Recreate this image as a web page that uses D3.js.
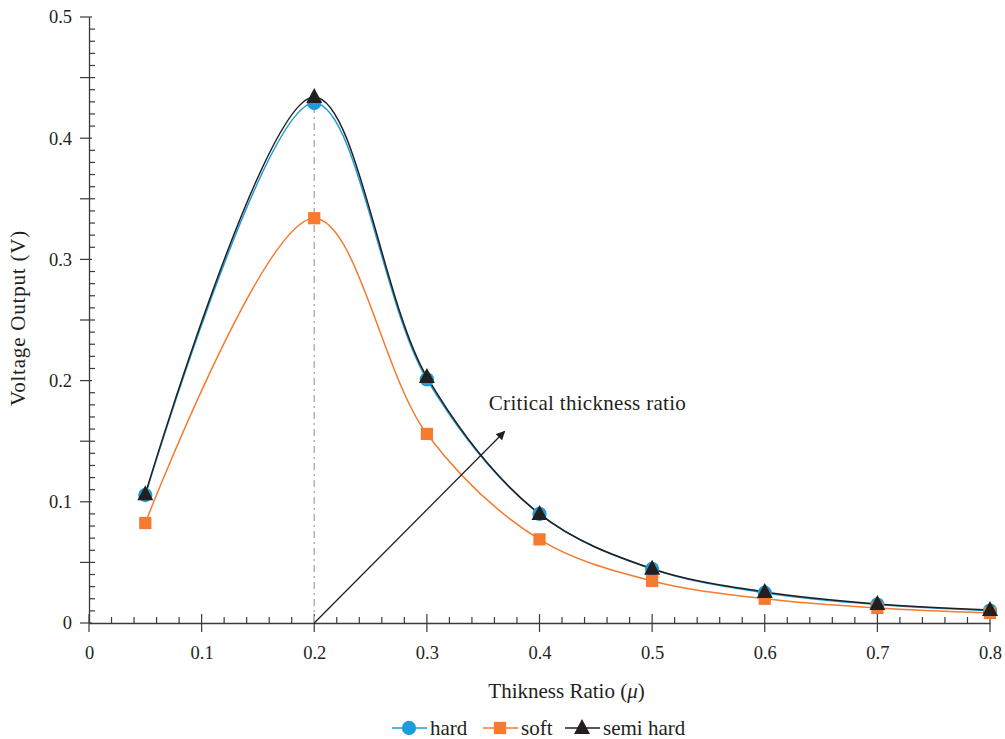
<!DOCTYPE html>
<html>
<head>
<meta charset="utf-8">
<script src="https://cdn.jsdelivr.net/npm/d3@7"></script>
<style>
  body { margin: 0; background: #fff; }
  svg text { font-family: 'Liberation Serif', 'Tinos', 'Times New Roman', 'DejaVu Serif', serif !important; }
</style>
</head>
<body>
<div id="chart"></div>
<script>
// datos
var ratios = [0.05, 0.2, 0.3, 0.4, 0.5, 0.6, 0.7, 0.8];
var hard = [0.1056, 0.429, 0.201, 0.090, 0.0446, 0.0250, 0.0152, 0.0102];
var soft = [0.0825, 0.334, 0.156, 0.0690, 0.0347, 0.0200, 0.0124, 0.0083];
var semiHard = [0.1062, 0.434, 0.203, 0.090, 0.0448, 0.0256, 0.0157, 0.0107];
var xTicks = [0, 0.1, 0.2, 0.3, 0.4, 0.5, 0.6, 0.7, 0.8];
var yTicks = [0, 0.1, 0.2, 0.3, 0.4, 0.5];
var criticalRatio = 0.2;

var width = 1005, height = 739;
var margin = { top: 17, right: 15, bottom: 116, left: 89 };
var serif = "'Liberation Serif', 'Tinos', 'Times New Roman', 'DejaVu Serif', serif";

var svg = d3.select("#chart").append("svg")
    .attr("width", width)
    .attr("height", height)
    .style("font-family", serif);

var x = d3.scaleLinear().domain([0, 0.8]).range([margin.left, 990]);
var y = d3.scaleLinear().domain([0, 0.5]).range([height - margin.bottom, margin.top]);

var axisColor = "#3a3a3a";

// ticks menores eje y (cada 0.01, hacia dentro)
var yMinor = d3.range(0, 0.5001, 0.01);
svg.append("g").selectAll("line").data(yMinor).enter().append("line")
    .attr("x1", function (d) {
        var r = Math.round(d * 100);
        return r % 5 === 0 ? x(0) - 9 : x(0);
    })
    .attr("x2", function (d) {
        var r = Math.round(d * 100);
        return r % 10 === 0 ? x(0) + 3 : 6 + x(0);
    })
    .attr("y1", function (d) { return y(d); })
    .attr("y2", function (d) { return y(d); })
    .attr("stroke", axisColor).attr("stroke-width", 1.2);

// ticks menores eje x (cada 0.02, hacia arriba)
var xMinor = d3.range(0, 0.8001, 0.02);
svg.append("g").selectAll("line").data(xMinor).enter().append("line")
    .attr("x1", function (d) { return x(d); })
    .attr("x2", function (d) { return x(d); })
    .attr("y1", function (d) {
        return Math.round(d * 100) % 10 === 0 ? y(0) + 9 : y(0);
    })
    .attr("y2", function (d) {
        return Math.round(d * 100) % 10 === 0 ? y(0) - 9 : y(0) - 6;
    })
    .attr("stroke", axisColor).attr("stroke-width", 1.2);

// ejes
var xAxis = svg.append("g")
    .attr("transform", "translate(0," + y(0) + ")")
    .call(d3.axisBottom(x).tickValues(xTicks).tickSize(0).tickPadding(23)
        .tickFormat(function (d) { return d === 0 ? "0" : d3.format(".1f")(d); }));
xAxis.select(".domain").attr("stroke", axisColor).attr("stroke-width", 1.3);

var yAxis = svg.append("g")
    .attr("transform", "translate(" + x(0) + ",0)")
    .call(d3.axisLeft(y).tickValues(yTicks).tickSize(0).tickPadding(17)
        .tickFormat(function (d) { return d === 0 ? "0" : d3.format(".1f")(d); }));
yAxis.select(".domain").attr("stroke", axisColor).attr("stroke-width", 1.3);

svg.selectAll("g").attr("font-family", null);
svg.selectAll(".tick text")
    .style("font-family", serif)
    .attr("font-size", 18.5)
    .attr("fill", "#231f20");

// titulos de ejes
svg.append("text")
    .attr("transform", "translate(25," + (y(0.25) - 2) + ") rotate(-90)")
    .attr("text-anchor", "middle")
    .style("font-family", serif)
    .attr("font-size", 21)
    .attr("letter-spacing", 0.8)
    .attr("fill", "#231f20")
    .text("Voltage Output (V)");

var xt = svg.append("text")
    .attr("x", x(0.4) + 27)
    .attr("y", 698)
    .attr("text-anchor", "middle")
    .style("font-family", serif)
    .attr("font-size", 21)
    .attr("fill", "#231f20");
xt.append("tspan").text("Thikness Ratio (");
xt.append("tspan").attr("font-style", "italic").text("μ");
xt.append("tspan").text(")");

// linea vertical punto-raya en el ratio critico
svg.append("line")
    .attr("x1", x(criticalRatio)).attr("x2", x(criticalRatio))
    .attr("y1", y(0)).attr("y2", y(d3.max(semiHard)) + 4)
    .attr("stroke", "#b3b3b3")
    .attr("stroke-width", 1.5)
    .attr("stroke-dasharray", "7,4,2,4");

// series
var series = [
    { name: "hard", values: hard, color: "#1f9bd7", marker: "circle" },
    { name: "soft", values: soft, color: "#f47b2f", marker: "square" },
    { name: "semi hard", values: semiHard, color: "#231f20", marker: "triangle" }
];

var line = d3.line()
    .x(function (d) { return x(d[0]); })
    .y(function (d) { return y(d[1]); })
    .curve(d3.curveCatmullRom.alpha(0.5));

function markerPath(type) {
    if (type === "circle") return d3.symbol().type(d3.symbolCircle).size(160)();
    if (type === "square") return d3.symbol().type(d3.symbolSquare).size(150)();
    return "M0,-9L8,6L-8,6Z";
}

series.forEach(function (s) {
    var pts = ratios.map(function (r, i) { return [r, s.values[i]]; });
    svg.append("path")
        .datum(pts)
        .attr("fill", "none")
        .attr("stroke", s.color)
        .attr("stroke-width", 1.5)
        .attr("d", line);
});

series.forEach(function (s) {
    var pts = ratios.map(function (r, i) { return [r, s.values[i]]; });
    svg.append("g").selectAll("path").data(pts).enter().append("path")
        .attr("transform", function (d) { return "translate(" + x(d[0]) + "," + y(d[1]) + ")"; })
        .attr("d", markerPath(s.marker))
        .attr("fill", s.color);
});

// flecha de anotacion
svg.append("defs").append("marker")
    .attr("id", "arrow")
    .attr("viewBox", "0 0 10 10")
    .attr("refX", 9).attr("refY", 5)
    .attr("markerWidth", 9).attr("markerHeight", 9)
    .attr("markerUnits", "userSpaceOnUse")
    .attr("orient", "auto")
    .append("path")
    .attr("d", "M0,0L10,5L0,10Z")
    .attr("fill", "#231f20");

svg.append("line")
    .attr("x1", x(criticalRatio)).attr("y1", y(0))
    .attr("x2", x(0.369)).attr("y2", y(0.158))
    .attr("stroke", "#231f20")
    .attr("stroke-width", 1.3)
    .attr("marker-end", "url(#arrow)");

svg.append("text")
    .attr("x", x(0.355))
    .attr("y", y(0.176))
    .style("font-family", serif)
    .attr("font-size", 21)
    .attr("letter-spacing", 0.3)
    .attr("fill", "#231f20")
    .text("Critical thickness ratio");

// leyenda
var legendX = [392, 483, 565];
var legend = svg.append("g").attr("transform", "translate(0,728)");
series.forEach(function (s, i) {
    var g = legend.append("g").attr("transform", "translate(" + legendX[i] + ",0)");
    g.append("line").attr("x1", 0).attr("x2", 35).attr("y1", 0).attr("y2", 0)
        .attr("stroke", s.color).attr("stroke-width", 1.5);
    g.append("path").attr("transform", "translate(17,0)")
        .attr("d", markerPath(s.marker)).attr("fill", s.color);
    g.append("text").attr("x", 38).attr("y", 6.5)
        .style("font-family", serif)
        .attr("font-size", 21).attr("fill", "#231f20").text(s.name);
});
</script>
</body>
</html>
